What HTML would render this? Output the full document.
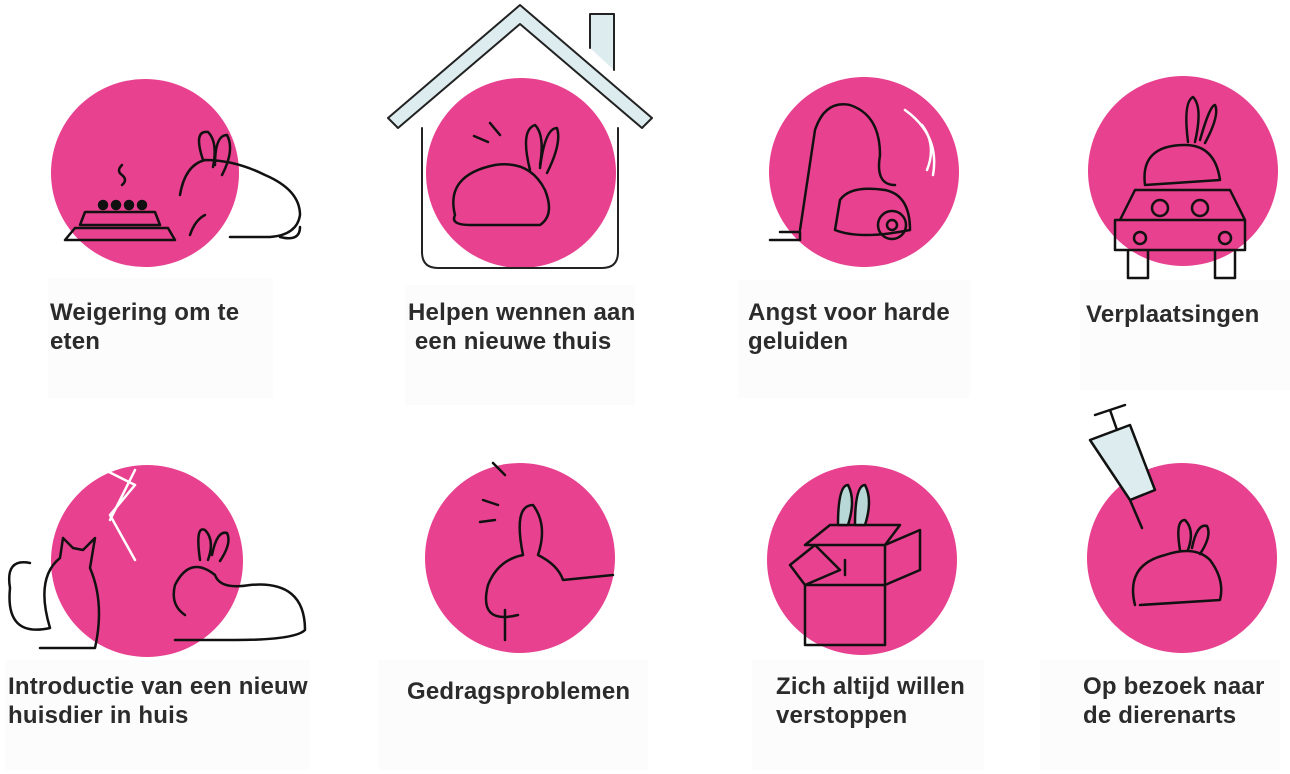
<!DOCTYPE html>
<html><head><meta charset="utf-8"><style>
html,body{margin:0;padding:0;background:#fff;width:1290px;height:774px;overflow:hidden;position:relative;font-family:"Liberation Sans",Arial,sans-serif}
.c{position:absolute;border-radius:50%;background:#e8418f}
.t{position:absolute;font-weight:bold;font-size:24px;line-height:29px;color:#2b2b2b;letter-spacing:0.2px;white-space:nowrap}
.b{position:absolute;background:#fcfcfc}
svg{position:absolute;left:0;top:0}
</style></head><body>
<div class="b" style="left:48px;top:278px;width:225px;height:120px"></div>
<div class="b" style="left:405px;top:285px;width:230px;height:120px"></div>
<div class="b" style="left:738px;top:280px;width:232px;height:118px"></div>
<div class="b" style="left:1080px;top:280px;width:210px;height:110px"></div>
<div class="b" style="left:5px;top:660px;width:305px;height:110px"></div>
<div class="b" style="left:378px;top:660px;width:270px;height:110px"></div>
<div class="b" style="left:752px;top:660px;width:232px;height:110px"></div>
<div class="b" style="left:1040px;top:660px;width:240px;height:110px"></div>

<div class="c" style="left:51px;top:79px;width:188px;height:188px"></div>
<div class="c" style="left:426px;top:78px;width:190px;height:190px"></div>
<div class="c" style="left:769px;top:77px;width:190px;height:190px"></div>
<div class="c" style="left:1088px;top:76px;width:190px;height:190px"></div>
<div class="c" style="left:51px;top:465px;width:192px;height:192px"></div>
<div class="c" style="left:425px;top:463px;width:190px;height:190px"></div>
<div class="c" style="left:767px;top:465px;width:190px;height:190px"></div>
<div class="c" style="left:1087px;top:463px;width:190px;height:190px"></div>

<svg width="1290" height="774" fill="none" stroke="#111" stroke-width="2.5" stroke-linecap="round" stroke-linejoin="round">
<!-- house -->
<path d="M590 48 L590 14 L614 14 L614 70" fill="#dcecef" stroke="#222" stroke-width="2"/>
<path d="M388 118 L520 5 L652 118 L642 128 L520 24 L398 128 Z" fill="#dcecef" stroke="#222" stroke-width="2"/>
<path d="M422 128 L422 252 Q422 268 438 268 L602 268 Q618 268 618 252 L618 128" stroke="#222" stroke-width="2"/>
<!-- rabbit 1 -->
<path d="M65 240 L175 240 L168 228 L75 228 Z M80 225 L160 225 L155 212 L85 212 Z" fill="none"/>
<circle cx="103" cy="205" r="4" fill="#111"/><circle cx="116" cy="205" r="4" fill="#111"/><circle cx="129" cy="205" r="4" fill="#111"/><circle cx="142" cy="205" r="4" fill="#111"/>
<path d="M122 165 q-6 6 0 10 q6 5 0 10"/>
<path d="M180 195 q5 -30 25 -35 q30 0 60 15 q35 15 35 40 q-3 20 -30 22 l-40 0 M203 160 q-10 -30 5 -28 q10 10 5 35 M215 165 q0 -30 12 -30 q8 15 -5 40 M190 235 q5 -15 15 -20 M280 237 q20 5 20 -10" stroke="#111"/>
<!-- rabbit 2 -->
<path d="M455 215 q-10 -40 40 -50 q35 -5 50 25 q10 25 -5 35 l-70 0 q-20 0 -15 -10 M530 170 q-10 -40 5 -45 q10 10 5 40 M540 168 q5 -40 17 -40 q5 15 -10 45 M500 135 l-10 -12 M488 142 l-14 -6"/>
<!-- vacuum -->
<path d="M840 200 q10 -15 45 -10 q25 5 25 40 q-50 10 -75 0 z M800 230 l15 -100 q10 -30 35 -25 q30 10 30 50 q-5 30 15 30 M770 240 l30 0 l0 -8 l-20 0" />
<circle cx="892" cy="225" r="14"/><circle cx="892" cy="225" r="5"/>
<path d="M905 110 q35 25 28 65 M922 125 q15 20 5 45" stroke="#fff"/>
<!-- car + rabbit 4 -->
<path d="M1120 220 l15 -30 l95 0 l15 30 M1115 220 l130 0 l0 30 l-130 0 z M1128 250 l0 28 l20 0 l0 -28 M1215 250 l0 28 l20 0 l0 -28"/>
<circle cx="1160" cy="208" r="8"/><circle cx="1200" cy="208" r="8"/><circle cx="1140" cy="238" r="6"/><circle cx="1225" cy="238" r="6"/>
<path d="M1145 185 q-5 -40 40 -40 q30 0 35 35 l-75 5 M1188 142 q-5 -40 5 -45 q10 10 2 45 M1200 140 q10 -35 15 -35 q5 10 -10 38"/>
<!-- cat + rabbit 5 -->
<path d="M40 648 l55 0 q10 -45 -5 -80 l5 -30 l-12 12 l-10 -2 l-10 -10 l-3 20 q-25 20 -10 70 q-45 10 -40 -40 q-5 -30 20 -25"/>
<path d="M105 470 l30 15 l-25 30 l25 45 M110 520 l25 -50" stroke="#fff"/>
<path d="M175 640 l60 0 q60 0 70 -10 q0 -50 -55 -45 q-30 5 -35 -10 q-25 -20 -40 10 q-5 20 10 30 M200 560 q-5 -35 5 -30 q10 10 3 30 M212 555 q5 -25 15 -22 q5 10 -7 28"/>
<!-- rabbit 6 -->
<path d="M518 615 q-40 10 -30 -30 q10 -25 35 -30 q-10 -50 10 -50 q15 20 5 50 q20 10 25 25 l50 -5 M505 475 l-12 -12 M498 505 l-15 -5 M495 520 l-15 2 M505 610 l0 30"/>
<!-- box -->
<path d="M805 585 l0 60 l80 0 l0 -60 z M885 585 l35 -15 l0 -40 l-35 15 z M805 585 l-15 -20 l25 -20 l25 25 z M845 575 l0 -15 M885 545 l-80 0 l25 -20 l70 0 z"/>
<path d="M838 525 q0 -40 10 -40 q8 15 0 40 z M855 525 q0 -40 10 -40 q8 15 0 40 z" fill="#b8d8d8" stroke="#111"/>
<!-- syringe -->
<path d="M1095 415 l30 -10 M1110 410 l7 20 M1090 440 l40 -15 l25 65 l-25 10 z M1130 500 l12 28" fill="#dcecef"/>
<path d="M1135 605 q-10 -40 30 -50 q30 -10 45 5 q15 20 10 40 l-80 5 M1180 550 q-5 -30 5 -30 q10 10 3 30 M1192 548 q5 -25 15 -22 q5 10 -7 28"/>
</svg>

<div class="t" style="left:50px;top:298px">Weigering om te<br>eten</div>
<div class="t" style="left:408px;top:298px">Helpen wennen aan<br>&nbsp;een nieuwe thuis</div>
<div class="t" style="left:748px;top:298px">Angst voor harde<br>geluiden</div>
<div class="t" style="left:1086px;top:300px">Verplaatsingen</div>
<div class="t" style="left:8px;top:672px">Introductie van een nieuw<br>huisdier in huis</div>
<div class="t" style="left:407px;top:677px">Gedragsproblemen</div>
<div class="t" style="left:776px;top:672px">Zich altijd willen<br>verstoppen</div>
<div class="t" style="left:1083px;top:672px">Op bezoek naar<br>de dierenarts</div>
</body></html>
